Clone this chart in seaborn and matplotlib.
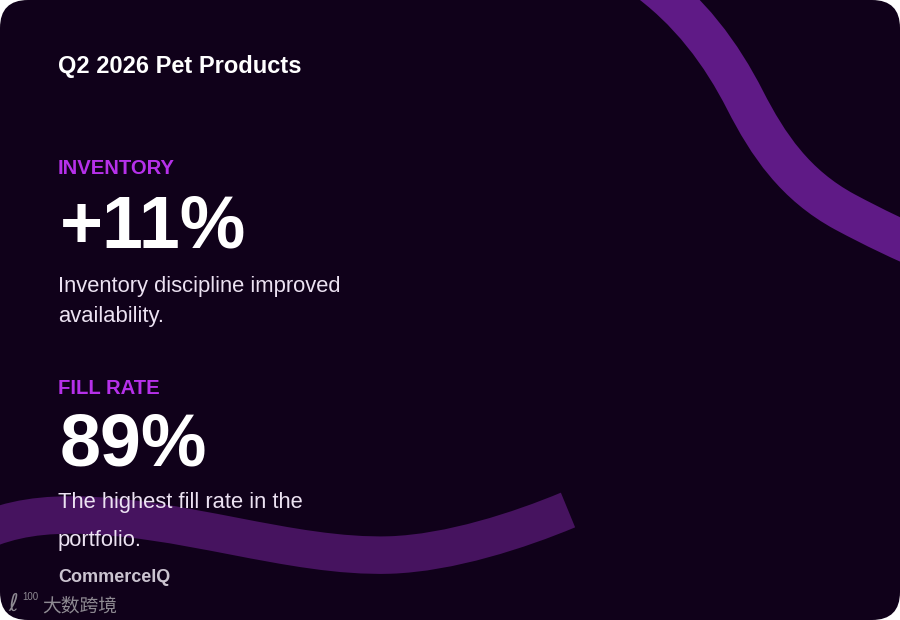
import matplotlib
matplotlib.use("Agg")
import matplotlib.pyplot as plt
from matplotlib.patches import FancyBboxPatch, PathPatch
from matplotlib.path import Path
import seaborn as sns

# card content
title = "Q2 2026 Pet Products"
metric_labels = ["INVENTORY", "FILL RATE"]
metric_values = ["+11%", "89%"]
metric_notes = [["Inventory discipline improved", "availability."],
                ["The highest fill rate in the", "portfolio."]]
brand = "CommerceIQ"
watermark = "大数跨境"

# decorative ribbons (pixel coords, y down)
top_ribbon = [(640, -25), (690, 10), (722, 55), (745, 100),
              (768, 145), (795, 185), (845, 212),
              (875, 228), (900, 240), (935, 255)]
bottom_ribbon = [(-30, 537), (0, 522), (30, 515), (70, 515),
                 (180, 515), (290, 558), (390, 555),
                 (450, 553), (520, 530), (568, 510)]

sns.set_theme(style="white")
plt.rcParams['font.family'] = ['Liberation Sans', 'Noto Sans CJK SC', 'DejaVu Sans']

bg = "#10011a"
accent = "#b630ea"
body = "#ece2f2"

fig = plt.figure(figsize=(9, 6.2), dpi=100, facecolor="white")
ax = fig.add_axes([0, 0, 1, 1])
ax.set_xlim(0, 900)
ax.set_ylim(620, 0)
ax.axis("off")

card = FancyBboxPatch((0, 0), 900, 620, boxstyle="round,pad=0,rounding_size=28",
                      facecolor=bg, edgecolor="none", zorder=0)
ax.add_patch(card)


def ribbon(pts, color, lw):
    codes = [Path.MOVETO] + [Path.CURVE4] * (len(pts) - 1)
    p = PathPatch(Path(pts, codes), facecolor="none", edgecolor=color,
                  linewidth=lw, capstyle="butt", zorder=1)
    ax.add_patch(p)
    p.set_clip_path(card)


ribbon(top_ribbon, "#5f1a86", 29)
ribbon(bottom_ribbon, "#46135f", 27)

ax.text(58, 73, title, color="white", fontsize=17, fontweight="bold", va="baseline", zorder=3)

label_y = [174, 394]
value_y = [247, 466]
note_y = [[292, 322], [508, 546]]
for i in range(2):
    ax.text(58, label_y[i], metric_labels[i], color=accent, fontsize=14.6,
            fontweight="bold", va="baseline", zorder=3)
    ax.text(60, value_y[i], metric_values[i], color="white", fontsize=53,
            fontweight="bold", va="baseline", zorder=3)
    for line, y in zip(metric_notes[i], note_y[i]):
        ax.text(58, y, line, color=body, fontsize=15.8, va="baseline", zorder=3)

ax.text(58, 582, brand, color="#cbc4d0", fontsize=13, fontweight="bold", va="baseline", zorder=3)

# watermark
ax.text(8, 611, "ℓ", color="#8e8a92", fontsize=17, va="baseline", zorder=3,
        family=['DejaVu Sans'])
ax.text(22, 600, "100", color="#8e8a92", fontsize=7, va="baseline", zorder=3)
ax.text(42, 611, watermark, color="#8e8a92", fontsize=13.5, va="baseline", zorder=3)

fig.savefig("out.png", dpi=100, facecolor="white")
